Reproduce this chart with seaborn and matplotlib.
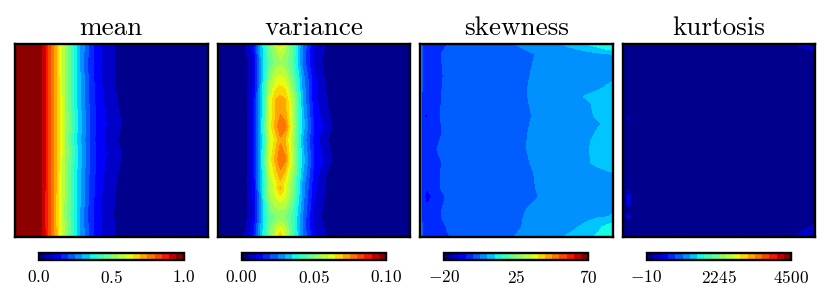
import numpy as np
import matplotlib
matplotlib.use("Agg")
import matplotlib.pyplot as plt
from matplotlib.colors import ListedColormap
import seaborn as sns

sns.set_theme(style="white")
plt.rcParams["font.family"] = ["cmr10", "DejaVu Serif"]
plt.rcParams["mathtext.fontset"] = "cm"
plt.rcParams["axes.formatter.use_mathtext"] = True

titles = ["mean", "variance", "skewness", "kurtosis"]
tick_values = [[0.0, 0.5, 1.0], [0.00, 0.05, 0.10], [-20, 25, 70], [-10, 2245, 4500]]
tick_labels = [["$0.0$", "$0.5$", "$1.0$"], ["$0.00$", "$0.05$", "$0.10$"],
               ["$-20$", "$25$", "$70$"], ["$-10$", "$2245$", "$4500$"]]

mean_x = [0, .141, .186, .25, .322, .38, .41, .45, .517, .552, .7, 1]
mean_y = [0, .113, .287, .409, .496, .565, .704, .878, 1]
mean_z = [
    [1, .95, .80, .57, .335, .200, .150, .100, .050, .035, .010, 0],
    [1, .95, .80, .57, .335, .195, .145, .095, .049, .034, .010, 0],
    [1, .95, .80, .58, .345, .205, .155, .105, .054, .040, .010, 0],
    [1, .95, .80, .58, .355, .215, .160, .115, .072, .050, .012, 0],
    [1, .95, .80, .58, .345, .210, .155, .110, .056, .040, .010, 0],
    [1, .95, .80, .58, .355, .215, .160, .115, .072, .050, .012, 0],
    [1, .95, .80, .57, .345, .205, .155, .105, .054, .040, .010, 0],
    [1, .95, .79, .56, .335, .195, .145, .095, .047, .032, .010, 0],
    [1, .95, .80, .57, .335, .200, .150, .100, .050, .035, .010, 0],
]

var_x = [0, .14, .185, .225, .27, .30, .325, .35, .39, .44, .50, .56, .60, 1]
var_y = [0, .026, .096, .183, .287, .365, .426, .495, .6, .687, .725, .748, .809, .896, .965, 1]
var_z = [
    [0, .0050, .0140, .032, .050, .060, .069, .060, .045, .026, .0110, .0050, .0020, 0],
    [0, .0040, .0120, .031, .048, .054, .060, .055, .045, .024, .0095, .0042, .0015, 0],
    [0, .0020, .0090, .030, .046, .052, .054, .052, .044, .024, .0090, .0030, .0010, 0],
    [0, .0020, .0100, .030, .052, .060, .062, .060, .048, .028, .0115, .0045, .0010, 0],
    [0, .0025, .0110, .032, .060, .070, .072, .070, .056, .030, .0115, .0055, .0020, 0],
    [0, .0025, .0110, .032, .060, .070, .075, .072, .057, .032, .0130, .0070, .0030, 0],
    [0, .0025, .0110, .033, .062, .072, .079, .077, .058, .033, .0150, .0085, .0040, 0],
    [0, .0025, .0110, .032, .058, .067, .074, .070, .054, .030, .0130, .0060, .0025, 0],
    [0, .0025, .0110, .033, .062, .072, .079, .076, .057, .033, .0150, .0085, .0040, 0],
    [0, .0025, .0110, .032, .058, .066, .072, .066, .052, .030, .0125, .0050, .0015, 0],
    [0, .0025, .0110, .031, .056, .063, .068, .063, .050, .028, .0120, .0045, .0012, 0],
    [0, .0025, .0110, .031, .056, .063, .071, .063, .050, .028, .0115, .0045, .0012, 0],
    [0, .0025, .0105, .030, .053, .059, .061, .059, .047, .027, .0105, .0040, .0010, 0],
    [0, .0030, .0100, .030, .046, .050, .051, .050, .042, .025, .0085, .0030, .0010, 0],
    [0, .0045, .0125, .031, .049, .057, .063, .057, .043, .024, .0100, .0045, .0015, 0],
    [0, .0055, .0145, .033, .051, .060, .070, .060, .044, .025, .0110, .0055, .0020, 0],
]

skew_x = [0, .012, .035, .09, .14, .30, .50, .56, .62, .80, .87, .92, 1]
skew_y = [0, .026, .052, .165, .226, .273, .304, .374, .412, .461, .504, .548, .617,
          .666, .748, .791, .835, .852, .896, .948, 1]
skew_z = [
    [9, -3.0, -4.0, -4.1, -2.1, .3, 2.64, 3.2, 3.6, 9.0, 11.6, 13.5, 15.0],
    [9, -3.0, -4.0, -3.4, -1.4, .3, 1.6, 2.8, 3.6, 6.5, 8.2, 9.8, 12.5],
    [9, -3.5, -4.5, -2.8, -.8, .3, .6, 1.8, 3.0, 4.5, 5.2, 5.8, 7.0],
    [9, -3.5, -4.5, -3.2, -1.2, .3, 1.1, 2.3, 3.5, 4.8, 5.4, 5.8, 6.3],
    [9, -3.5, -4.5, -3.0, -1.0, .3, 1.3, 2.5, 3.7, 5.0, 5.6, 6.4, 8.0],
    [9, -4.0, -5.0, -2.8, -.8, .3, 1.3, 2.5, 3.7, 5.8, 7.5, 8.3, 8.8],
    [9, -4.0, -5.0, -2.8, -.8, .3, 1.3, 2.4, 3.6, 5.5, 6.6, 7.8, 8.8],
    [9, -6.0, -7.2, -2.6, -.6, .3, .9, 2.1, 3.3, 5.3, 6.3, 7.4, 8.5],
    [9, -4.0, -5.0, -2.8, -.8, .3, 1.1, 2.3, 3.5, 5.0, 5.8, 6.6, 8.2],
    [9, -4.0, -5.5, -3.0, -1.0, .3, 1.3, 2.5, 3.6, 5.3, 6.2, 7.3, 8.2],
    [9, -4.0, -6.8, -2.4, -.4, .3, 1.4, 2.6, 3.7, 5.6, 6.6, 7.8, 8.5],
    [9, -4.0, -5.0, -1.9, .1, .3, 1.4, 2.6, 3.7, 5.7, 6.8, 8.0, 8.5],
    [9, -4.0, -5.0, -3.0, -1.0, .3, 1.1, 2.3, 3.5, 5.5, 6.6, 7.7, 8.5],
    [9, -4.0, -5.0, -2.6, -.6, .3, .7, 1.9, 3.1, 4.8, 5.5, 6.0, 7.0],
    [9, -4.0, -6.5, -2.6, -.6, .3, .5, 1.7, 2.9, 4.4, 5.0, 5.4, 6.0],
    [9, -4.0, -9.0, -3.6, -1.6, .3, .4, 1.4, 2.6, 4.2, 4.8, 5.2, 5.8],
    [9, -4.0, -6.5, -3.2, -1.2, .3, 1.0, 2.2, 3.4, 4.6, 5.2, 5.6, 6.3],
    [9, -4.0, -5.5, -3.0, -1.0, .3, 1.4, 2.6, 3.8, 5.0, 5.6, 6.0, 6.6],
    [9, -4.0, -7.0, -2.8, -.8, .3, 1.7, 3.0, 4.0, 5.3, 5.9, 6.5, 7.2],
    [9, -3.5, -4.5, -3.8, -1.8, .3, 2.0, 3.1, 4.0, 6.4, 8.3, 10.3, 14.0],
    [9, -3.0, -4.0, -4.3, -2.3, .3, 2.64, 3.4, 4.2, 8.2, 10.8, 12.0, 17.0],
]

kurt_x = [0, .015, .03, .05, .85, .90, .95, 1]
kurt_y = [0, .026, .052, .357, .388, .417, .739, .791, .826, .861, .896, .922, .934, .965, 1]
kurt_z = [
    [-10, -10, -10, -10, 100, 225, 320, 400],
    [-10, -10, -10, -10, 20, 100, 200, 290],
    [-10, -10, -10, -10, -10, -10, 20, 60],
    [-10, -10, -10, -10, -10, -10, -10, -10],
    [-10, -10, 300, -10, -10, -10, -10, -10],
    [-10, -10, -10, -10, -10, -10, -10, -10],
    [-10, -10, 50, -10, -10, -10, -10, -10],
    [-10, 100, 500, 100, -10, -10, -10, -10],
    [-10, 100, 450, 100, -10, -10, -10, -10],
    [-10, -10, 50, -10, -10, -10, -10, -10],
    [-10, 100, 500, 100, -10, -10, -10, -10],
    [-10, -10, -10, -10, -10, -10, 20, 100],
    [-10, -10, -10, -10, -10, -10, 60, 215],
    [-10, -10, -10, -10, 10, 120, 240, 320],
    [-10, -10, -10, -10, 100, 230, 350, 420],
]

panels = [(mean_x, mean_y, mean_z), (var_x, var_y, var_z),
          (skew_x, skew_y, skew_z), (kurt_x, kurt_y, kurt_z)]

W, H = 830, 299
ax_px = [(15, 207.7), (218, 410), (420, 612.6), (622.5, 815)]
cb_px = [(39, 183.5), (241.5, 386), (444, 588.3), (646.5, 791)]
ax_y = (44.3, 236.7)
cb_y = (252.5, 259.5)
FRAME = 1.7

jet = sns.mpl_palette("jet", as_cmap=True)
cmap = ListedColormap(jet(np.linspace(0.012, 0.988, 20)))
fig = plt.figure(figsize=(W / 100, H / 100), dpi=100, facecolor="white")


def rect(xs, ys):
    return [xs[0] / W, 1 - ys[1] / H, (xs[1] - xs[0]) / W, (ys[1] - ys[0]) / H]


for i in range(4):
    x, y, z = panels[i]
    vals = tick_values[i]
    levels = np.linspace(vals[0], vals[2], 21)
    ax = fig.add_axes(rect(ax_px[i], ax_y))
    cf = ax.contourf(x, y, np.array(z, dtype=float), levels=levels, cmap=cmap)
    ax.set_xlim(0, 1)
    ax.set_ylim(1, 0)
    ax.set_xticks([])
    ax.set_yticks([])
    for s in ax.spines.values():
        s.set_visible(True)
        s.set_color("black")
        s.set_linewidth(FRAME)
    ax.set_title(titles[i], fontsize=19.6, color="black", pad=7)

    cax = fig.add_axes(rect(cb_px[i], cb_y))
    cb = fig.colorbar(cf, cax=cax, orientation="horizontal", ticks=vals)
    cb.ax.set_xticks(vals)
    cb.ax.set_xticklabels(tick_labels[i])
    cb.ax.minorticks_off()
    cb.ax.tick_params(axis="x", bottom=True, direction="in", length=5, width=0.8,
                      color="black", labelsize=12.5, labelcolor="black", pad=6.5)
    cb.outline.set_edgecolor("black")
    cb.outline.set_linewidth(FRAME)

fig.savefig("out.png", dpi=100, facecolor="white")
